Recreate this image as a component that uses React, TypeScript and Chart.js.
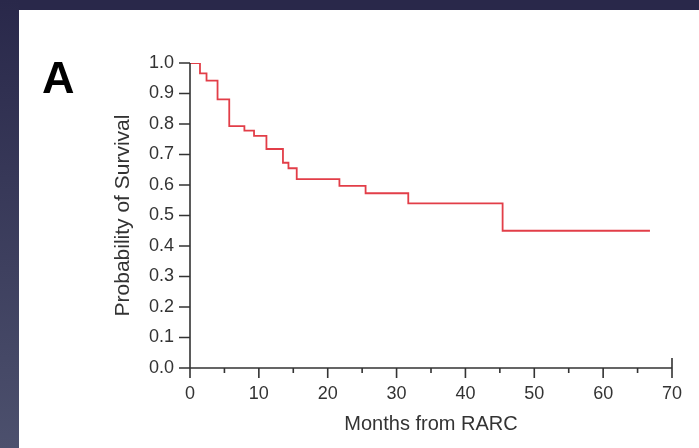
import React, { useEffect, useRef } from "react";
import { Chart, registerables } from "chart.js";

Chart.register(...registerables);

// Kaplan–Meier survival estimate: time of each step (months) and survival after it
const months = [0, 1.45, 2.4, 4.0, 5.7, 7.9, 9.3, 11.1, 13.5, 14.3, 15.5, 21.7, 25.5, 31.7, 45.4, 66.8];
const survival = [1.0, 0.966, 0.942, 0.881, 0.793, 0.778, 0.761, 0.718, 0.673, 0.655, 0.619, 0.597, 0.573, 0.54, 0.45, 0.45];

const xMajorTicks = [0, 10, 20, 30, 40, 50, 60, 70];
const xMinorTicks = [5, 15, 25, 35, 45, 55, 65];
const yTicks = [0, 0.1, 0.2, 0.3, 0.4, 0.5, 0.6, 0.7, 0.8, 0.9, 1.0];

const panelLabel = "A";
const xTitle = "Months from RARC";
const yTitle = "Probability of Survival";

const FONT = "'Liberation Sans', Arial, Helvetica, sans-serif";
const W = 699;
const H = 448;

const framePlugin = {
  id: "frame",
  beforeDraw(chart: any) {
    const ctx = chart.ctx;
    ctx.save();
    ctx.fillStyle = "#29284a";
    ctx.fillRect(0, 0, W, H);
    const g = ctx.createLinearGradient(0, 0, 0, H);
    g.addColorStop(0, "#29284a");
    g.addColorStop(1, "#4c506d");
    ctx.fillStyle = g;
    ctx.fillRect(0, 0, 19, H);
    ctx.fillStyle = "#ffffff";
    ctx.fillRect(19, 10, W - 19, H - 10);
    ctx.fillStyle = "#000000";
    ctx.font = `bold 45px ${FONT}`;
    ctx.textBaseline = "alphabetic";
    ctx.textAlign = "left";
    ctx.fillText(panelLabel, 42, 93);
    ctx.restore();
  },
  afterDraw(chart: any) {
    const ctx = chart.ctx;
    const xs = chart.scales.x;
    const ys = chart.scales.y;
    const x0 = xs.getPixelForValue(0);
    const y0 = ys.getPixelForValue(0);
    ctx.save();
    ctx.strokeStyle = "#333333";
    ctx.lineWidth = 1.6;
    ctx.beginPath();
    // axis lines
    ctx.moveTo(x0, ys.getPixelForValue(1));
    ctx.lineTo(x0, y0);
    ctx.lineTo(xs.getPixelForValue(70), y0);
    // y ticks
    yTicks.forEach((v) => {
      const p = ys.getPixelForValue(v);
      ctx.moveTo(x0 - 11, p);
      ctx.lineTo(x0, p);
    });
    // x major ticks
    xMajorTicks.forEach((v) => {
      const p = xs.getPixelForValue(v);
      ctx.moveTo(p, v === 70 ? y0 - 10 : y0);
      ctx.lineTo(p, y0 + 10);
    });
    // x minor ticks
    xMinorTicks.forEach((v) => {
      const p = xs.getPixelForValue(v);
      ctx.moveTo(p, y0);
      ctx.lineTo(p, y0 + 5);
    });
    ctx.stroke();
    ctx.restore();
  },
};

export default function App() {
  const ref = useRef<HTMLCanvasElement>(null);

  useEffect(() => {
    if (!ref.current) return;
    const chart = new Chart(ref.current, {
      type: "line",
      data: {
        datasets: [
          {
            data: months.map((m, i) => ({ x: m, y: survival[i] })),
            borderColor: "rgb(226, 62, 72)",
            borderWidth: 1.8,
            stepped: "before",
            pointRadius: 0,
            fill: false,
          },
        ],
      },
      options: {
        animation: false,
        responsive: false,
        devicePixelRatio: 1,
        layout: { padding: { left: 0, top: 63, right: 27, bottom: 0 } },
        plugins: { legend: { display: false }, tooltip: { enabled: false } },
        scales: {
          x: {
            type: "linear",
            min: 0,
            max: 70,
            afterFit: (s: any) => {
              s.height = 80;
            },
            ticks: {
              stepSize: 10,
              padding: 5,
              color: "#333333",
              font: { family: FONT, size: 18 },
              maxRotation: 0,
            },
            grid: {
              display: true,
              drawOnChartArea: false,
              color: "rgba(0,0,0,0)",
              tickColor: "rgba(0,0,0,0)",
              tickLength: 10,
            },
            border: { display: false },
            title: {
              display: true,
              text: xTitle,
              color: "#333333",
              font: { family: FONT, size: 20 },
              padding: { top: 0, bottom: 12 },
            },
          },
          y: {
            type: "linear",
            min: 0,
            max: 1,
            afterFit: (s: any) => {
              s.width = 190;
            },
            ticks: {
              stepSize: 0.1,
              padding: 5,
              color: "#333333",
              font: { family: FONT, size: 18 },
              callback: (v: any) => Number(v).toFixed(1),
            },
            grid: {
              display: true,
              drawOnChartArea: false,
              color: "rgba(0,0,0,0)",
              tickColor: "rgba(0,0,0,0)",
              tickLength: 11,
            },
            border: { display: false },
            title: {
              display: true,
              text: yTitle,
              color: "#333333",
              font: { family: FONT, size: 21 },
              padding: { top: 111, bottom: 0 },
            },
          },
        },
      },
      plugins: [framePlugin],
    });
    return () => chart.destroy();
  }, []);

  return (
    <div style={{ position: "fixed", left: 0, top: 0, width: W, height: H }}>
      <canvas ref={ref} width={W} height={H} style={{ display: "block" }} />
    </div>
  );
}
